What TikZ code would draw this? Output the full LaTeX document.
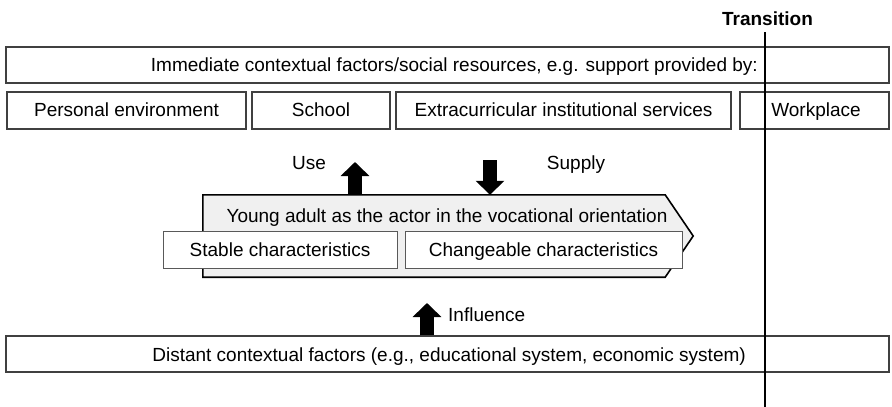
\documentclass[tikz,border=0pt]{standalone}
\usepackage{fontspec}
\setmainfont{Liberation Sans}
\usetikzlibrary{arrows.meta}
\begin{document}
\begin{tikzpicture}[x=1pt,y=-1pt,
  font=\fontsize{19}{23}\selectfont,
  box/.style={draw=black!75, line width=1.1pt, fill=white, inner sep=0pt, minimum height=37pt},
  lbl/.style={inner sep=0pt},
  blk/.style={line width=14pt, -{Triangle[width=28pt,length=14pt]}, black}]
\useasboundingbox (0,0) rectangle (892,407);

% top box
\node[box, minimum width=883pt, minimum height=36pt] (imm) at (447.5,65) {};
\node[lbl, anchor=base east] (immtext) at (758,71.5) {Immediate contextual factors/social resources, e.g. support provided by:};

% row of providers
\node[box, minimum width=239pt] (pe) at (126.5,110.5) {};
\node[box, minimum width=138pt] (school) at (321,110.5) {};
\node[box, minimum width=335pt] (extra) at (563.5,110.5) {};
\node[box, minimum width=149pt] (work) at (814.5,110.5) {};
\node[lbl, anchor=base] (petext) at (126.5,116.5) {Personal environment};
\node[lbl, anchor=base] (schooltext) at (321,116.5) {School};
\node[lbl, anchor=base] (extratext) at (563.5,116.5) {Extracurricular institutional services};
\node[lbl, anchor=base] (worktext) at (816,116.5) {Workplace};

% actor pentagon
\node[minimum width=462pt, minimum height=82pt, inner sep=0pt] (actor) at (434,236) {};
\draw[fill=black!6, line width=1.6pt, line join=miter]
  (actor.north west) -- (actor.north east) -- ([xshift=28pt]actor.east)
  -- (actor.south east) -- (actor.south west) -- cycle;
\node[lbl, anchor=base] (actortext) at (447,222) {Young adult as the actor in the vocational orientation};
\node[box, draw=black!65, line width=0.8pt, minimum width=234pt] (stable) at (280,249.5) {};
\node[box, draw=black!65, line width=0.8pt, minimum width=277pt] (change) at (543.5,249.5) {};
\node[lbl, anchor=base] (stabletext) at (280,256.5) {Stable characteristics};
\node[lbl, anchor=base] (changetext) at (543.5,256.5) {Changeable characteristics};

% use / supply
\coordinate (usetip) at (355,162);
\draw[blk] (actor.north -| usetip) -- (usetip);
\node[lbl, anchor=base] (use) at (309,169) {Use};
\coordinate (supplystart) at (490,160);
\draw[blk] (supplystart) -- (actor.north -| supplystart);
\node[lbl, anchor=base] (supply) at (576,169) {Supply};

% distant
\node[box, minimum width=883pt, minimum height=36pt] (dist) at (447.5,354) {};
\node[lbl, anchor=base east] (disttext) at (746,361) {Distant contextual factors (e.g., educational system, economic system)};
\coordinate (inftip) at (427,303);
\draw[blk] (dist.north -| inftip) -- (inftip);
\node[lbl, anchor=base west] (influence) at (448,321) {Influence};

% transition
\node[lbl, anchor=base] (trans) at (767.5,25) {\bfseries Transition};
\coordinate (tl) at (765,32);
\coordinate (lb) at (765,407);
\draw[line width=1.5pt, black] (tl) -- (lb);
\end{tikzpicture}
\end{document}
